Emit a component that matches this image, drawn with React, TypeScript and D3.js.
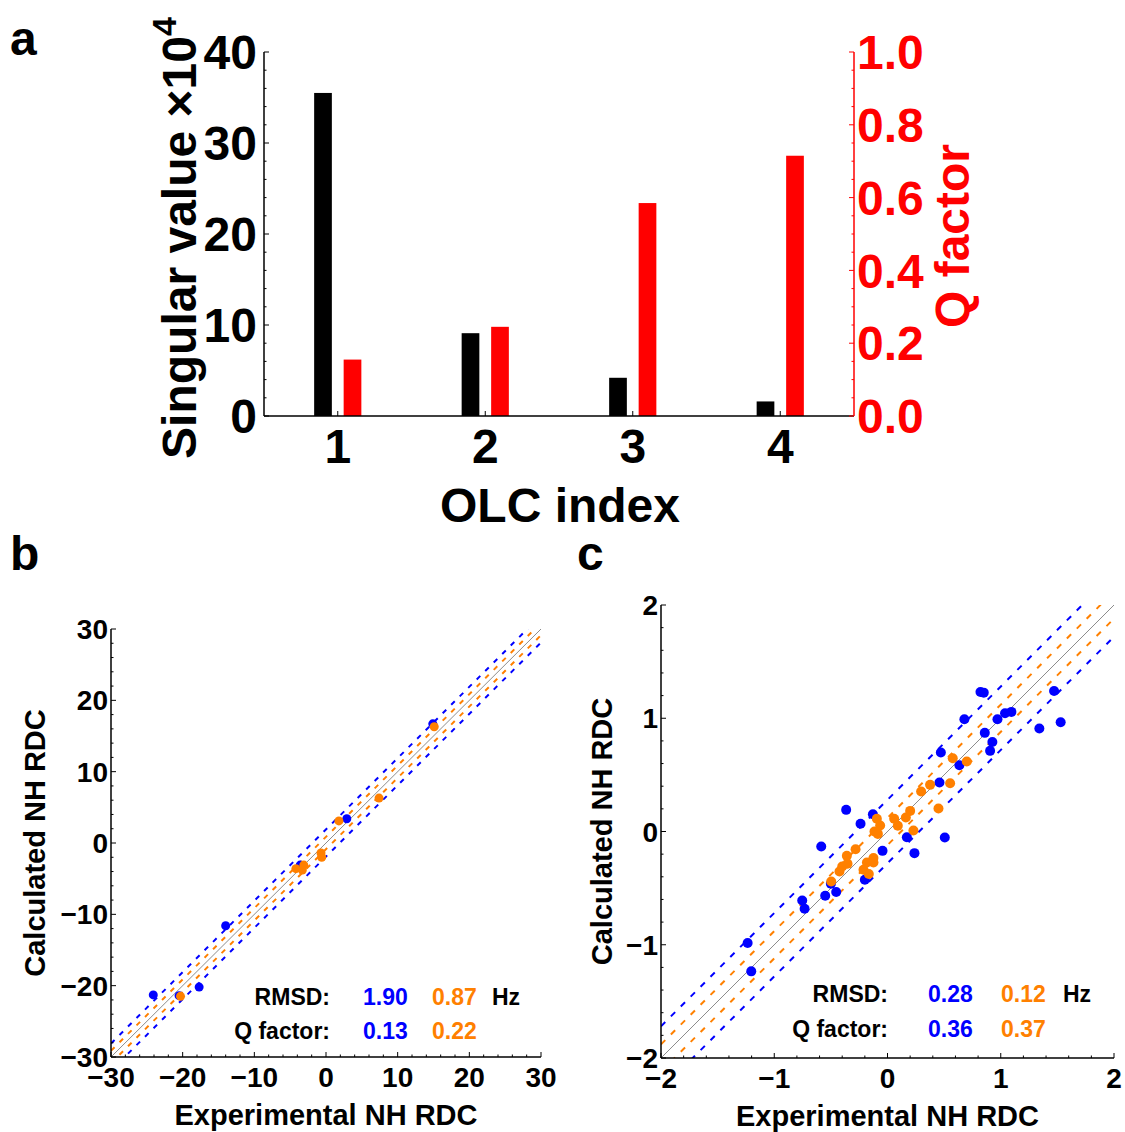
import * as d3 from 'd3';

// panel a: singular values (x10^4) and Q factors per OLC index
const olcIndex = [1, 2, 3, 4];
const singularValues = [35.5, 9.1, 4.2, 1.6];
const qFactors = [0.155, 0.245, 0.585, 0.715];
const leftTicks = [0, 10, 20, 30, 40];
const rightTicks = [0, 0.2, 0.4, 0.6, 0.8, 1.0];

// panel b
const bExpBlue = [-24.1, -20.5, -17.7, -14.0, -3.6, 2.9, 14.9];
const bCalcBlue = [-21.3, -21.4, -20.2, -11.6, -3.1, 3.4, 16.7];
const bExpOrange = [-20.3, -4.2, -3.3, -3.1, -0.7, -0.6, 1.8, 7.4, 15.1];
const bCalcOrange = [-21.5, -3.6, -3.8, -3.1, -1.4, -2.0, 3.1, 6.3, 16.3];
const bTicks = [-30, -20, -10, 0, 10, 20, 30];
const bRmsd = ['1.90', '0.87'];
const bQ = ['0.13', '0.22'];

// panel c
const cExpBlue = [-1.235, -1.203, -0.753, -0.732, -0.55, -0.453, -0.5, -0.585, -0.365, -0.238, -0.129, -0.044, -0.2, 0.171, 0.238, 0.506, 0.459, 0.471, 0.635, 0.679, 0.821, 0.85, 0.859, 0.926, 0.906, 0.971, 1.038, 1.094, 1.341, 1.471, 1.529];
const cCalcBlue = [-0.985, -1.235, -0.609, -0.682, -0.568, -0.535, -0.462, -0.132, 0.191, 0.068, 0.153, -0.171, -0.426, -0.05, -0.191, -0.053, 0.432, 0.697, 0.585, 0.991, 1.232, 1.226, 0.871, 0.791, 0.712, 0.991, 1.044, 1.056, 0.909, 1.241, 0.965];
const cExpOrange = [-0.497, -0.424, -0.4, -0.353, -0.359, -0.282, -0.212, -0.165, -0.182, -0.124, -0.124, -0.115, -0.085, -0.094, -0.065, 0.059, 0.091, 0.162, 0.2, 0.229, 0.297, 0.376, 0.45, 0.553, 0.576, 0.7];
const cCalcOrange = [-0.441, -0.353, -0.309, -0.285, -0.215, -0.156, -0.338, -0.376, -0.274, -0.235, -0.274, 0.0, -0.021, 0.112, 0.053, 0.112, 0.05, 0.124, 0.182, 0.009, 0.353, 0.412, 0.203, 0.426, 0.647, 0.618];
const cTicks = [-2, -1, 0, 1, 2];
const cRmsd = ['0.28', '0.12'];
const cQ = ['0.36', '0.37'];

const BLUE = '#0000ff';
const ORANGE = '#ff8000';
const RED = '#ff0000';
const FONT = '"Liberation Sans", Arial, sans-serif';

const fmt = (v: number) => (v < 0 ? `\u2212${-v}` : `${v}`);

const BarPanel = () => {
  const x = d3.scaleLinear().domain([0.5, 4.5]).range([264, 854]);
  const yL = d3.scaleLinear().domain([0, 40]).range([416, 52]);
  const yR = d3.scaleLinear().domain([0, 1]).range([416, 52]);
  const off = 0.1;
  const bw = x(0.62) - x(0.5);
  return (
    <g fontFamily={FONT} fontWeight="bold">
      {olcIndex.map((c, i) => (
        <g key={c}>
          <rect x={x(c - off) - bw / 2} y={yL(singularValues[i])} width={bw} height={yL(0) - yL(singularValues[i])} fill="#000" />
          <rect x={x(c + off) - bw / 2} y={yR(qFactors[i])} width={bw} height={yR(0) - yR(qFactors[i])} fill={RED} />
        </g>
      ))}
      {/* axes */}
      <line x1={x(0.5)} x2={x(4.5)} y1={416} y2={416} stroke="#000" strokeWidth={1.5} />
      <line x1={x(0.5)} x2={x(0.5)} y1={52} y2={416} stroke="#000" strokeWidth={1.5} />
      <line x1={x(4.5)} x2={x(4.5)} y1={52} y2={416} stroke={RED} strokeWidth={1.5} />
      {d3.range(0, 40.01, 2).map((v) => (
        <line key={'lm' + v} x1={x(0.5)} x2={x(0.5) + (v % 10 === 0 ? 5 : 2.5)} y1={yL(v)} y2={yL(v)} stroke="#000" />
      ))}
      {d3.range(0, 1.001, 0.05).map((v) => (
        <line key={'rm' + v} x1={x(4.5)} x2={x(4.5) - (Math.abs(v * 5 - Math.round(v * 5)) < 1e-6 ? 5 : 2.5)} y1={yR(v)} y2={yR(v)} stroke={RED} />
      ))}
      {olcIndex.map((c) => (
        <line key={'bt' + c} x1={x(c)} x2={x(c)} y1={416} y2={411} stroke="#000" />
      ))}
      {leftTicks.map((v) => (
        <text key={'lt' + v} x={257} y={yL(v)} dy="0.36em" textAnchor="end" fontSize={48}>{v}</text>
      ))}
      {rightTicks.map((v) => (
        <text key={'rt' + v} x={857} y={yR(v)} dy="0.36em" textAnchor="start" fontSize={48} fill={RED}>{v.toFixed(1)}</text>
      ))}
      {olcIndex.map((c) => (
        <text key={'xt' + c} x={x(c)} y={463} textAnchor="middle" fontSize={48}>{c}</text>
      ))}
      <text x={560} y={522} textAnchor="middle" fontSize={48}>OLC index</text>
      <text transform="translate(196,238) rotate(-90)" textAnchor="middle" fontSize={48}>
        Singular value ×10<tspan fontSize={34} dy={-20}>4</tspan>
      </text>
      <text transform="translate(969,236) rotate(-90)" textAnchor="middle" fontSize={48} fill={RED}>Q factor</text>
    </g>
  );
};

type ScatterProps = {
  dom: [number, number];
  xr: [number, number];
  yr: [number, number];
  ticks: number[];
  minor: number;
  expB: number[];
  calcB: number[];
  expO: number[];
  calcO: number[];
  rmsdB: number;
  rmsdO: number;
  rmsdTxt: string[];
  qTxt: string[];
  dash: string;
  r: number;
  clipId: string;
  ann: { labelEnd: number; blue: number; orange: number; hz: number; y1: number; y2: number };
  yLabelX: number;
};

const Scatter = (p: ScatterProps) => {
  const x = d3.scaleLinear().domain(p.dom).range(p.xr);
  const y = d3.scaleLinear().domain(p.dom).range(p.yr);
  const [lo, hi] = p.dom;
  const diag = (o: number) => `M${x(lo)},${y(lo + o)}L${x(hi)},${y(hi + o)}`;
  const minors = d3.range(lo, hi + p.minor / 2, p.minor);
  const cx = (p.xr[0] + p.xr[1]) / 2;
  const cy = (p.yr[0] + p.yr[1]) / 2;
  return (
    <g fontFamily={FONT} fontWeight="bold">
      <defs>
        <clipPath id={p.clipId}>
          <rect x={p.xr[0]} y={p.yr[1]} width={p.xr[1] - p.xr[0]} height={p.yr[0] - p.yr[1]} />
        </clipPath>
      </defs>
      <g clipPath={`url(#${p.clipId})`} fill="none">
        {[p.rmsdB, -p.rmsdB].map((o, i) => (
          <path key={'b' + i} d={diag(o)} stroke={BLUE} strokeWidth={2} strokeDasharray={p.dash} />
        ))}
        {[p.rmsdO, -p.rmsdO].map((o, i) => (
          <path key={'o' + i} d={diag(o)} stroke={ORANGE} strokeWidth={2} strokeDasharray={p.dash} />
        ))}
        <path d={diag(0)} stroke="#8c8c8c" strokeWidth={1} />
      </g>
      {p.expB.map((v, i) => (
        <circle key={'pb' + i} cx={x(v)} cy={y(p.calcB[i])} r={p.r} fill={BLUE} />
      ))}
      {p.expO.map((v, i) => (
        <circle key={'po' + i} cx={x(v)} cy={y(p.calcO[i])} r={p.r} fill={ORANGE} />
      ))}
      {/* axes */}
      <line x1={p.xr[0]} x2={p.xr[1]} y1={p.yr[0]} y2={p.yr[0]} stroke="#000" strokeWidth={1.5} />
      <line x1={p.xr[0]} x2={p.xr[0]} y1={p.yr[0]} y2={p.yr[1]} stroke="#000" strokeWidth={1.5} />
      {minors.map((v, i) => {
        const major = p.ticks.some((t) => Math.abs(t - v) < 1e-6);
        const len = major ? 5 : 2.5;
        return (
          <g key={'mt' + i}>
            <line x1={x(v)} x2={x(v)} y1={p.yr[0]} y2={p.yr[0] - len} stroke="#000" />
            <line x1={p.xr[0]} x2={p.xr[0] + len} y1={y(v)} y2={y(v)} stroke="#000" />
          </g>
        );
      })}
      {p.ticks.map((v) => (
        <text key={'xt' + v} x={x(v)} y={p.yr[0] + 30} textAnchor="middle" fontSize={28}>{fmt(v)}</text>
      ))}
      {p.ticks.map((v) => (
        <text key={'yt' + v} x={p.xr[0] - 3} y={y(v)} dy="0.36em" textAnchor="end" fontSize={28}>{fmt(v)}</text>
      ))}
      <text x={cx} y={p.yr[0] + 68} textAnchor="middle" fontSize={29}>Experimental NH RDC</text>
      <text transform={`translate(${p.yLabelX},${cy}) rotate(-90)`} textAnchor="middle" fontSize={29}>Calculated NH RDC</text>
      <g fontSize={23}>
        <text x={p.ann.labelEnd} y={p.ann.y1} textAnchor="end">RMSD:</text>
        <text x={p.ann.blue} y={p.ann.y1} fill={BLUE}>{p.rmsdTxt[0]}</text>
        <text x={p.ann.orange} y={p.ann.y1} fill={ORANGE}>{p.rmsdTxt[1]}</text>
        <text x={p.ann.hz} y={p.ann.y1}>Hz</text>
        <text x={p.ann.labelEnd} y={p.ann.y2} textAnchor="end">Q factor:</text>
        <text x={p.ann.blue} y={p.ann.y2} fill={BLUE}>{p.qTxt[0]}</text>
        <text x={p.ann.orange} y={p.ann.y2} fill={ORANGE}>{p.qTxt[1]}</text>
      </g>
    </g>
  );
};

export default function App() {
  return (
    <svg width={1125} height={1132} style={{ position: 'absolute', left: 0, top: 0, background: '#fff' }}>
      <rect width={1125} height={1132} fill="#fff" />
      <g fontFamily={FONT} fontWeight="bold" fontSize={48}>
        <text x={10} y={55}>a</text>
        <text x={10} y={570}>b</text>
        <text x={577} y={570}>c</text>
      </g>
      <BarPanel />
      <Scatter
        dom={[-30, 30]}
        xr={[111, 541]}
        yr={[1057, 629]}
        ticks={bTicks}
        minor={2}
        expB={bExpBlue}
        calcB={bCalcBlue}
        expO={bExpOrange}
        calcO={bCalcOrange}
        rmsdB={1.9}
        rmsdO={0.87}
        rmsdTxt={bRmsd}
        qTxt={bQ}
        dash="5,7"
        r={4.5}
        clipId="clipB"
        ann={{ labelEnd: 330, blue: 363, orange: 432, hz: 492, y1: 1005, y2: 1039 }}
        yLabelX={45}
      />
      <Scatter
        dom={[-2, 2]}
        xr={[661, 1114]}
        yr={[1058, 605]}
        ticks={cTicks}
        minor={0.2}
        expB={cExpBlue}
        calcB={cCalcBlue}
        expO={cExpOrange}
        calcO={cCalcOrange}
        rmsdB={0.28}
        rmsdO={0.12}
        rmsdTxt={cRmsd}
        qTxt={cQ}
        dash="6,8"
        r={5}
        clipId="clipC"
        ann={{ labelEnd: 888, blue: 928, orange: 1001, hz: 1063, y1: 1002, y2: 1037 }}
        yLabelX={612}
      />
    </svg>
  );
}
